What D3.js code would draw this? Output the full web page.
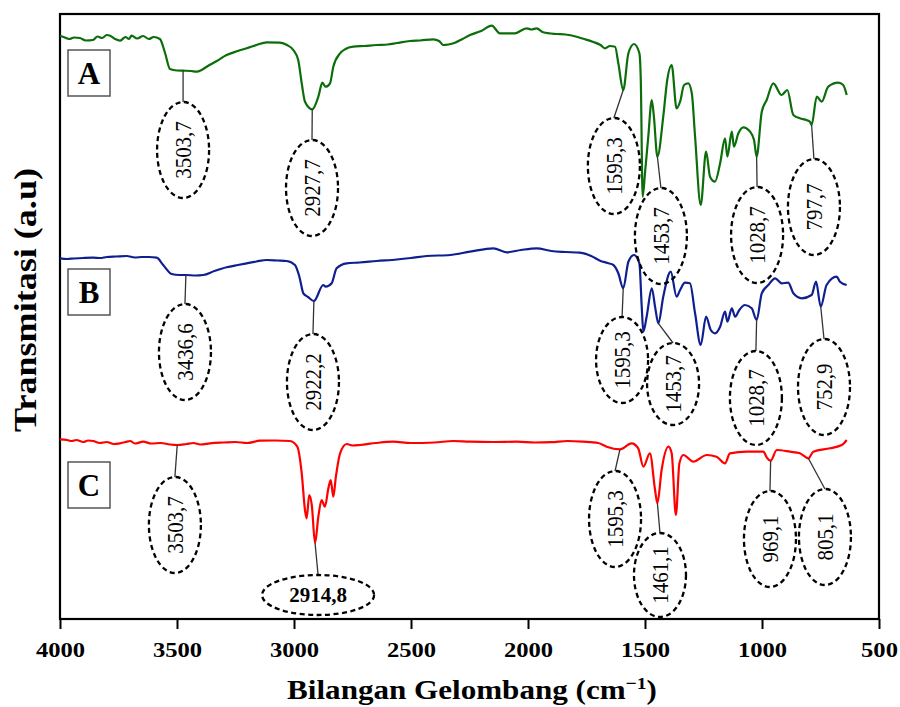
<!DOCTYPE html>
<html>
<head>
<meta charset="utf-8">
<script src="https://cdn.jsdelivr.net/npm/d3@7"></script>
<style>
  body { margin: 0; background: #fff; }
  svg text { font-family: "Liberation Serif", "Times New Roman", serif; }
</style>
</head>
<body>
<svg width="900" height="707"></svg>
<script>
// spectra: [wavenumber cm-1, transmittance a.u.]
var spectrumA = [[4000,58.33],[3985,58.2],[3960,58.0],[3940,58.15],[3915,58.1],[3890,57.85],[3859,57.9],[3840,58.25],[3820,58.1],[3800,58.4],[3786,58.33],[3765,58.0],
  [3744,57.83],[3720,58.2],[3705,58.0],[3694,58.33],[3670,58.05],[3645,58.3],[3620,58.0],[3600,58.2],[3573,58.0],
  [3551,56.6],[3530,55.0],[3500,54.85],[3474,54.83],[3440,54.8],[3416,54.73],[3395,54.9],[3373,55.23],[3330,55.8],[3288,56.4],[3240,56.8],[3202,57.07],[3160,57.4],[3117,57.67],
  [3060,57.63],[3030,57.4],[3003,56.9],[2982,55.9],[2967,53.57],[2953,51.73],
  [2922,50.97],[2896,52.23],[2879,53.63],[2865,53.23],[2846,53.57],[2832,55.23],[2803,56.57],[2780,57.0],[2747,57.23],[2700,57.3],[2647,57.4],[2600,57.45],[2560,57.6],
  [2504,57.8],[2460,57.85],[2405,57.97],[2380,57.8],[2362,57.4],[2340,57.45],[2312,57.63],[2280,58.0],
  [2248,58.4],[2200,58.8],[2155,59.33],[2120,58.57],[2056,58.57],[2006,59.07],[1985,58.95],[1963,59.07],[1935,58.67],[1880,58.5],[1840,58.45],[1792,58.23],[1760,58.0],
  [1721,57.7],[1690,57.4],[1671,57.07],[1650,57.3],[1628,57.23],[1614,55.57],[1593,52.9],
  [1571,56.57],[1547,57.5],[1524,56.57],[1518,53.9],[1510,42.23],[1500,44.6],[1486,48.23],[1471,51.9],[1462,50.23],[1447,46.23],[1422,50.23],[1405,53.9],[1386,55.4],
  [1365,51.07],[1350,51.73],[1333,53.4],[1315,53.57],[1300,52.57],[1286,48.23],[1262,41.4],[1239,46.73],[1222,44.23],[1201,43.73],[1179,45.57],[1158,48.07],[1148,46.23],
  [1129,48.73],[1120,47.23],[1101,48.57],[1080,49.17],[1051,48.73],[1034,47.9],[1023,46.23],[1001,50.73],[980,51.9],[952,53.57],[916,52.4],[892,52.9],[866,50.4],[838,50.07],
  [810,49.9],[795,49.73],[788,49.4],[766,52.23],[745,51.73],[717,53.23],[674,53.63],[653,53.4],[638,52.4]];

var spectrumB = [[4000,36.07],[3970,36.0],[3940,36.05],[3900,36.1],[3858,36.13],[3830,36.1],[3800,36.2],[3760,36.25],[3715,36.3],[3680,36.15],[3650,36.2],[3620,36.2],
  [3587,36.13],[3559,35.4],[3523,34.5],[3490,34.4],[3462,34.4],[3420,34.35],[3388,34.4],[3340,34.8],[3288,35.17],[3240,35.4],[3202,35.57],[3160,35.75],
  [3117,35.9],[3070,35.85],[3031,35.8],[2996,35.4],[2977,34.23],[2960,32.57],[2940,32.2],[2915,31.8],[2875,33.4],[2865,33.23],[2839,33.57],[2818,35.07],[2775,35.57],[2720,35.65],
  [2647,35.8],[2560,35.95],[2500,36.1],[2433,36.3],
  [2333,36.4],[2248,36.73],[2148,37.07],[2091,36.67],[2030,36.9],[1963,37.07],[1900,36.8],[1840,36.7],[1778,36.63],[1730,36.3],[1692,35.83],[1660,35.6],[1635,35.4],[1614,34.57],[1593,33.07],[1571,35.73],
  [1547,36.4],[1524,35.57],[1514,31.23],[1507,28.73],[1493,30.23],[1471,33.07],[1457,31.23],[1443,29.57],[1422,32.23],[1390,34.73],[1365,32.23],[1350,32.9],[1329,33.63],
  [1308,33.57],[1286,30.57],[1262,27.4],[1239,30.23],[1219,28.9],[1201,28.57],[1179,29.23],[1158,30.73],[1148,29.73],[1129,31.07],[1115,30.23],[1097,30.9],[1073,31.4],
  [1044,31.07],[1023,29.9],[1001,32.57],[973,33.4],[944,34.07],[916,33.57],[888,33.63],[866,32.57],[830,32.07],[788,32.4],[769,33.73],[749,31.23],[724,33.4],[681,34.23],
  [667,33.73],[638,33.4]];

var spectrumC = [[4000,17.97],[3970,17.9],[3950,17.8],[3930,17.9],[3900,17.7],[3880,17.85],[3858,17.8],[3830,17.6],[3800,17.7],[3770,17.5],[3744,17.57],[3720,17.7],
  [3700,17.8],[3680,17.55],[3644,17.73],[3610,17.55],[3570,17.6],[3530,17.45],[3499,17.4],[3460,17.5],[3430,17.6],[3400,17.45],[3359,17.57],[3300,17.65],[3250,17.7],
  [3200,17.6],[3145,17.83],[3080,17.85],
  [3017,17.8],[2986,17.23],[2967,14.57],[2953,10.9],[2946,10.07],[2935,12.4],[2924,11.4],[2910,7.57],[2896,10.23],[2882,11.9],[2868,11.23],[2853,13.07],[2843,13.9],
  [2832,12.23],[2821,14.23],[2803,16.57],[2775,17.5],[2750,17.35],[2718,17.4],[2650,17.6],[2576,17.73],[2500,17.6],[2400,17.65],[2320,17.8],[2248,17.73],[2150,17.7],[2048,17.73],
  [1970,17.65],[1900,17.68],[1830,17.8],[1764,17.73],[1700,17.6],[1664,17.23],[1607,16.97],
  [1557,17.57],[1529,17.07],[1507,15.23],[1479,16.57],[1457,12.9],[1447,11.57],[1429,14.9],[1400,17.23],[1386,16.57],[1368,10.4],[1353,15.57],[1336,16.4],[1294,15.73],
  [1236,16.4],[1194,16.23],[1158,15.57],[1137,16.57],[1065,16.73],[994,16.73],[980,16.17],[963,15.83],[937,16.9],[880,16.73],[838,16.57],[802,16.07],[781,16.73],
  [709,17.07],[659,17.4],[638,17.9]];

var seriesNames = ["A", "B", "C"];
var seriesColors = ["#0b6e0b", "#0f1f8f", "#ff0000"];

// peak annotations: label, marked point [wn, a.u.], label centre [wn, a.u.]
var peaksA = [["3503,7", [3474,54.83], [3474,46.9]], ["2927,7", [2922,50.97], [2923,43.1]], ["1595,3", [1593,52.9], [1633,45.3]],
  ["1453,7", [1447,46.23], [1432,38.3]], ["1028,7", [1023,46.23], [1021,38.4]], ["797,7", [788,49.4], [778,41.2]]];
var peaksB = [["3436,6", [3462,34.4], [3466,26.7]], ["2922,2", [2915,31.8], [2919,23.7]], ["1595,3", [1593,33.07], [1598,25.9]],
  ["1453,7", [1443,29.57], [1380,23.5]], ["1028,7", [1023,29.9], [1026,22.1]], ["752,9", [749,31.23], [735,23.2]]];
var peaksC = [["3503,7", [3499,17.4], [3509,9.4]], ["2914,8", [2910,7.57], [2897,2.4]], ["1595,3", [1607,16.97], [1628,10.0]],
  ["1461,1", [1447,11.57], [1436,4.4]], ["969,1", [963,15.83], [966,8.0]], ["805,1", [802,16.07], [731,8.2]]];

var xMajor = [4000, 3500, 3000, 2500, 2000, 1500, 1000, 500];
var xMinor = [3750, 3250, 2750, 2250, 1750, 1250, 750];

var svg = d3.select("svg");
var mLeft = 60, mTop = 14, mRight = 879, mBottom = 619;

var x = d3.scaleLinear().domain([4000, 500]).range([mLeft, mRight]);
var y = d3.scaleLinear().domain([0, 60.5]).range([mBottom, mTop]);

// axis with major + minor ticks
var gx = svg.append("g").attr("transform", "translate(0," + mBottom + ")");
gx.call(d3.axisBottom(x).tickValues(xMinor).tickSize(5).tickFormat(""));
gx.call(d3.axisBottom(x).tickValues(xMajor).tickSize(10).tickPadding(12).tickFormat(d3.format("d")));
gx.select(".domain").remove();
gx.selectAll("line").attr("stroke", "#000").attr("stroke-width", 2);
gx.selectAll("text")
  .attr("font-size", 22).attr("font-weight", "bold").attr("fill", "#000")
  .attr("font-family", "Liberation Serif")
  .attr("textLength", d => String(d).length * 12.3)
  .attr("lengthAdjust", "spacingAndGlyphs");

svg.append("rect")
  .attr("x", mLeft).attr("y", mTop)
  .attr("width", mRight - mLeft).attr("height", mBottom - mTop)
  .attr("fill", "none").attr("stroke", "#000").attr("stroke-width", 2.2);

var line = d3.line().x(d => x(d[0])).y(d => y(d[1])).curve(d3.curveMonotoneX);

var spectra = [spectrumA, spectrumB, spectrumC];
spectra.forEach(function(s, i) {
  svg.append("path").datum(s)
    .attr("d", line)
    .attr("fill", "none")
    .attr("stroke", seriesColors[i])
    .attr("stroke-width", 2.2)
    .attr("stroke-linejoin", "round");
});

// series letter boxes
var boxTop = [50, 269, 462];
seriesNames.forEach(function(n, i) {
  svg.append("rect").attr("x", 68).attr("y", boxTop[i]).attr("width", 42).attr("height", 46)
    .attr("fill", "#fff").attr("stroke", "#555").attr("stroke-width", 1.5);
  svg.append("text").attr("x", 89).attr("y", boxTop[i] + 34)
    .attr("text-anchor", "middle").attr("font-size", 31).attr("font-weight", "bold")
    .text(n);
});

// peak labels in dashed ellipses
var shortOnes = { "B1595,3": 43, "B1453,7": 41, "C1461,1": 42, "B1028,7": 47 };
[peaksA, peaksB, peaksC].forEach(function(peaks, i) {
  peaks.forEach(function(p) {
    var horiz = p[0] === "2914,8";
    var rx = horiz ? 56 : 26;
    var ry = horiz ? 20 : (shortOnes[seriesNames[i] + p[0]] || 48);
    var cx = x(p[2][0]), cy = y(p[2][1]);
    svg.append("line")
      .attr("x1", x(p[1][0])).attr("y1", y(p[1][1]))
      .attr("x2", cx).attr("y2", cy - ry)
      .attr("stroke", "#333").attr("stroke-width", 1.3);
    svg.append("ellipse")
      .attr("cx", cx).attr("cy", cy).attr("rx", rx).attr("ry", ry)
      .attr("fill", "none").attr("stroke", "#000")
      .attr("stroke-width", 2.3).attr("stroke-dasharray", "5,3.5");
    var t = svg.append("text")
      .attr("text-anchor", "middle").attr("dominant-baseline", "central")
      .attr("font-size", 21)
      .text(p[0]);
    if (horiz) {
      t.attr("x", cx).attr("y", cy).attr("font-weight", "bold");
    } else {
      t.attr("transform", "translate(" + cx + "," + cy + ") rotate(-90) scale(1,1.12)");
    }
  });
});

// axis titles
var xt = svg.append("text")
  .attr("text-anchor", "middle")
  .attr("font-size", 27).attr("font-weight", "bold");
xt.append("tspan").text("Bilangan Gelombang (cm");
xt.append("tspan").attr("font-size", 17).attr("dy", -10).text("\u22121");
xt.append("tspan").attr("dy", 10).text(")");
var xw = xt.node().getComputedTextLength();
xt.attr("transform", "translate(472,699) scale(" + (370 / xw) + ",1)");

var yt = svg.append("text")
  .attr("text-anchor", "middle")
  .attr("font-size", 28).attr("font-weight", "bold")
  .text("Transmitasi (a.u)");
var yw = yt.node().getComputedTextLength();
yt.attr("transform", "translate(36,300) rotate(-90) scale(" + (264 / yw) + ",1.12)");
</script>
</body>
</html>
